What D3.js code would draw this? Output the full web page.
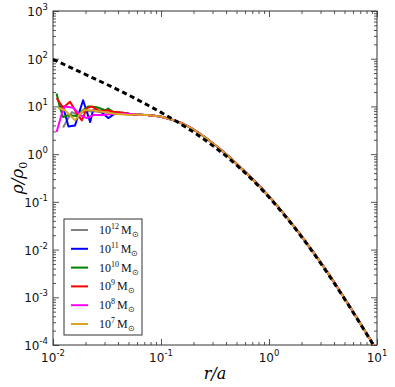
<!DOCTYPE html>
<html>
<head>
<meta charset="utf-8">
<script src="https://cdn.jsdelivr.net/npm/d3@7"></script>
<style>
  body { margin: 0; background: #fff; }
  svg { display: block; }
</style>
</head>
<body>
<div id="chart"></div>
<script>
// Analytic reference profile (dashed)
const refR   = [0.01, 0.0133, 0.0178, 0.0237, 0.0316, 0.0422, 0.0562, 0.075, 0.1, 0.133, 0.178, 0.237, 0.316, 0.422, 0.562, 0.75, 1, 1.33, 1.78, 2.37, 3.16, 4.22, 5.62, 7.5, 10];
const refRho = [97, 72, 53, 39, 28.8, 21, 15.1, 10.7, 7.5, 5.15, 3.44, 2.23, 1.39, 0.825, 0.467, 0.249, 0.125, 0.059, 0.0262, 0.011, 0.0044, 0.00167, 0.000613, 0.000217, 0.000075];

// Shared outer part of the simulated profiles
const tailR   = [0.056, 0.075, 0.1, 0.122, 0.15, 0.178, 0.237, 0.316, 0.422, 0.562, 0.75, 1, 1.33, 1.78, 2.37, 3.16, 4.22, 5.62, 7.5, 10];
const tailRho = [6.8, 6.6, 6.1, 5.4, 4.6, 3.8, 2.55, 1.55, 0.9, 0.49, 0.26, 0.13, 0.061, 0.0271, 0.0114, 0.0046, 0.00173, 0.00063, 0.000222, 0.000077];

// Noisy inner parts, one per halo mass
const grayR = [0.0124, 0.0139, 0.0150, 0.0166, 0.0190, 0.0229, 0.0273, 0.0338, 0.0419];
const grayRho = [3.6, 5.8, 7.6, 6.8, 7.6, 8.0, 7.6, 7.4, 7.1];
const blueR = [0.0116, 0.0124, 0.0139, 0.0160, 0.0190, 0.0221, 0.0235, 0.0273, 0.0324, 0.0377, 0.047];
const blueRho = [9.8, 10, 3.8, 4.0, 13.5, 4.7, 8.3, 8.0, 5.7, 7.1, 7.2];
const greenR = [0.0108, 0.0116, 0.0124, 0.0137, 0.0166, 0.0185, 0.0213, 0.0255, 0.0304, 0.0324, 0.0361, 0.045];
const greenRho = [18.6, 9.4, 6.0, 6.5, 6.3, 8.0, 10.0, 9.6, 8.3, 9.0, 7.6, 7.4];
const redR = [0.0108, 0.0124, 0.0144, 0.0166, 0.0185, 0.0206, 0.0229, 0.0273, 0.0315, 0.0377, 0.046];
const redRho = [15, 9.4, 12.5, 7.2, 5.1, 9.2, 10, 7.8, 8.3, 7.6, 7.3];
const magentaR = [0.0108, 0.0121, 0.0129, 0.0154, 0.0178, 0.0206, 0.0235, 0.029, 0.036, 0.047];
const magentaRho = [2.9, 7.2, 10, 9.4, 6.6, 5.7, 6.6, 6.6, 7.0, 7.0];
const orangeR = [0.0112, 0.0129, 0.0160, 0.0190, 0.0221, 0.0273, 0.0377, 0.0519];
const orangeRho = [9.4, 8.3, 5.1, 8.3, 8.3, 7.8, 7.0, 6.6];

const massExp = ["12", "11", "10", "9", "8", "7"];
const colors = ["#808080", "#0000ff", "#008000", "#ff0000", "#ff00ff", "#daa520"];
const innerR = [grayR, blueR, greenR, redR, magentaR, orangeR];
const innerRho = [grayRho, blueRho, greenRho, redRho, magentaRho, orangeRho];

const xTickExp = [-2, -1, 0, 1];
const yTickExp = [-4, -3, -2, -1, 0, 1, 2, 3];

const W = 395, H = 387;
const plot = {left: 53, right: 377, top: 11, bottom: 345};

const svg = d3.select("#chart").append("svg")
    .attr("width", W)
    .attr("height", H);

const x = d3.scaleLog().domain([1e-2, 1e1]).range([plot.left, plot.right]);
const y = d3.scaleLog().domain([1e-4, 1e3]).range([plot.bottom, plot.top]);

// minor and major ticks
const minorX = [], minorY = [];
xTickExp.slice(0, -1).forEach(e => { for (let k = 2; k < 10; k++) minorX.push(k * Math.pow(10, e)); });
yTickExp.slice(0, -1).forEach(e => { for (let k = 2; k < 10; k++) minorY.push(k * Math.pow(10, e)); });
const majorX = xTickExp.map(e => Math.pow(10, e));
const majorY = yTickExp.map(e => Math.pow(10, e));

const tickColor = "#555";

function drawAxis(axisFn, scale, vals, size, transform) {
    const g = svg.append("g")
        .attr("transform", transform)
        .call(axisFn(scale).tickValues(vals).tickSize(size).tickFormat(""));
    g.select(".domain").remove();
    g.selectAll(".tick line").attr("stroke", tickColor).attr("stroke-width", 1);
    return g;
}

const sides = [
    [d3.axisBottom, x, minorX, majorX, `translate(0,${plot.bottom})`],
    [d3.axisTop, x, minorX, majorX, `translate(0,${plot.top})`],
    [d3.axisLeft, y, minorY, majorY, `translate(${plot.left},0)`],
    [d3.axisRight, y, minorY, majorY, `translate(${plot.right},0)`]
];
sides.forEach(([fn, sc, mi, ma, tr]) => {
    drawAxis(fn, sc, mi, -3, tr);
    drawAxis(fn, sc, ma, -6, tr);
});

// frame
svg.append("rect")
    .attr("x", plot.left).attr("y", plot.top)
    .attr("width", plot.right - plot.left)
    .attr("height", plot.bottom - plot.top)
    .attr("fill", "none")
    .attr("stroke", "#333")
    .attr("stroke-width", 1);

// tick labels
const labelFont = "DejaVu Sans, sans-serif";
xTickExp.forEach(e => {
    const t = svg.append("text")
        .attr("x", x(Math.pow(10, e)))
        .attr("y", 362)
        .attr("text-anchor", "middle")
        .style("font-family", labelFont)
        .style("font-size", "12px")
        .attr("fill", "#111");
    t.append("tspan").text("10");
    t.append("tspan").attr("dy", -6).style("font-size", "8.5px").text(e);
});
yTickExp.forEach(e => {
    const t = svg.append("text")
        .attr("x", 48)
        .attr("y", y(Math.pow(10, e)) + 5)
        .attr("text-anchor", "end")
        .style("font-family", labelFont)
        .style("font-size", "12px")
        .attr("fill", "#111");
    t.append("tspan").text("10");
    t.append("tspan").attr("dy", -6).style("font-size", "8.5px").text(e);
});

// axis titles
const serif = "DejaVu Serif, serif";
svg.append("text")
    .attr("x", (plot.left + plot.right) / 2)
    .attr("y", 379)
    .attr("text-anchor", "middle")
    .style("font-family", serif)
    .style("font-style", "italic")
    .style("font-size", "16px")
    .text("r/a");

const yt = svg.append("text")
    .attr("transform", `translate(23,${(plot.top + plot.bottom) / 2}) rotate(-90)`)
    .attr("text-anchor", "middle")
    .style("font-family", serif)
    .style("font-style", "italic")
    .style("font-size", "17px");
yt.append("tspan").text("ρ/ρ");
yt.append("tspan").attr("dy", 4).style("font-size", "11px").style("font-style", "normal").text("0");

// lines
svg.append("clipPath").attr("id", "clip")
    .append("rect")
    .attr("x", plot.left).attr("y", plot.top)
    .attr("width", plot.right - plot.left)
    .attr("height", plot.bottom - plot.top);

const line = d3.line()
    .x(d => x(d[0]))
    .y(d => y(d[1]));
const smooth = d3.line()
    .x(d => x(d[0]))
    .y(d => y(d[1]))
    .curve(d3.curveMonotoneX);

const lines = svg.append("g").attr("clip-path", "url(#clip)");

innerR.forEach((rs, i) => {
    const pts = rs.map((r, j) => [r, innerRho[i][j]]);
    const tail = tailR.map((r, j) => [r, tailRho[j]]);
    // jagged inner part joined to smooth tail
    lines.append("path")
        .attr("d", line(pts) + smooth([pts[pts.length - 1]].concat(tail)).replace(/^M/, "L"))
        .attr("fill", "none")
        .attr("stroke", colors[i])
        .attr("stroke-width", 2)
        .attr("stroke-linejoin", "round");
});

lines.append("path")
    .datum(refR.map((r, j) => [r, refRho[j]]))
    .attr("d", smooth)
    .attr("fill", "none")
    .attr("stroke", "#000")
    .attr("stroke-width", 3)
    .attr("stroke-dasharray", "5,3.5");

// legend
const legend = svg.append("g").attr("transform", "translate(64,219)");
legend.append("rect")
    .attr("width", 78).attr("height", 116)
    .attr("fill", "#fff")
    .attr("stroke", "#333")
    .attr("stroke-width", 1);

massExp.forEach((m, i) => {
    const yy = 11 + i * 18.8;
    legend.append("line")
        .attr("x1", 7).attr("x2", 24)
        .attr("y1", yy).attr("y2", yy)
        .attr("stroke", colors[i])
        .attr("stroke-width", 2);
    const t = legend.append("text")
        .attr("x", 35)
        .attr("y", yy + 4)
        .style("font-family", "Liberation Serif, serif")
        .style("font-size", "12px")
        .attr("fill", "#111");
    t.append("tspan").text("10");
    t.append("tspan").attr("dy", -5).style("font-size", "8px").text(m);
    t.append("tspan").attr("dy", 5).attr("dx", 2).text("M");
    t.append("tspan").attr("dy", 3).style("font-size", "8px").text("⊙");
});
</script>
</body>
</html>
